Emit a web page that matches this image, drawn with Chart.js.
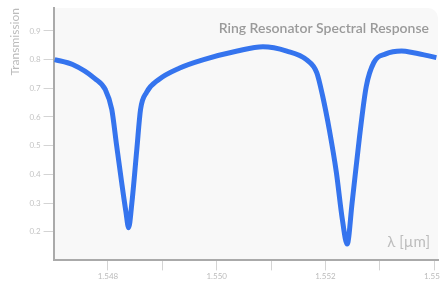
<!DOCTYPE html>
<html>
<head>
<meta charset="utf-8">
<script src="https://cdn.jsdelivr.net/npm/chart.js@4"></script>
<style>
  html, body { margin: 0; padding: 0; background: #fff; overflow: hidden; }
  #wrap { width: 460px; height: 282px; }
</style>
</head>
<body>
<div id="wrap"><canvas id="chart" width="460" height="282"></canvas></div>
<script>
// wavelength in µm
const wavelength = [
    1.54702, 1.54735, 1.54776, 1.54795, 1.54807, 1.54816, 1.54825, 1.54833,
    1.54838, 1.54844, 1.54853, 1.54860, 1.54871, 1.54893, 1.54931, 1.54976,
    1.55038, 1.55085, 1.55129, 1.55165, 1.55184, 1.55195, 1.55207, 1.55220,
    1.55231, 1.55240, 1.55249, 1.55262, 1.55275, 1.55289, 1.55311, 1.55340,
    1.55362, 1.55404
];
const transmission = [
    0.800, 0.783, 0.734, 0.696, 0.627, 0.500, 0.375, 0.270,
    0.214, 0.300, 0.485, 0.627, 0.686, 0.730, 0.770, 0.800,
    0.830, 0.845, 0.830, 0.800, 0.755, 0.672, 0.557, 0.408,
    0.244, 0.157, 0.300, 0.520, 0.706, 0.790, 0.820, 0.830,
    0.824, 0.807
];
const xTicks = [1.548, 1.549, 1.550, 1.551, 1.552, 1.553, 1.554];
const yTicks = [0.2, 0.3, 0.4, 0.5, 0.6, 0.7, 0.8, 0.9];

const points = wavelength.map((w, i) => ({ x: w, y: transmission[i] }));

// light panel behind the plot, rounded top-right corner
const panelBg = {
    id: 'panelBg',
    beforeDraw(chart) {
        const { ctx, chartArea: { left, top, right, bottom } } = chart;
        ctx.save();
        ctx.fillStyle = '#f8f8f8';
        ctx.beginPath();
        ctx.roundRect(left, top, right - left, bottom - top, [0, 10, 0, 0]);
        ctx.fill();
        ctx.restore();
    }
};

// title and unit label sit inside the plot
const insideLabels = {
    id: 'insideLabels',
    afterDraw(chart) {
        const ctx = chart.ctx;
        ctx.save();
        ctx.textAlign = 'right';
        ctx.textBaseline = 'middle';
        ctx.fillStyle = '#9a9a9a';
        ctx.font = '600 14px Lato';
        ctx.fillText('Ring Resonator Spectral Response', 429, 28);
        ctx.fillStyle = '#bdbdbd';
        ctx.font = '15px Lato';
        ctx.fillText('λ [µm]', 430, 242);
        ctx.restore();
    }
};

new Chart(document.getElementById('chart'), {
    type: 'line',
    data: {
        datasets: [{
            data: points,
            borderColor: '#3574ee',
            borderWidth: 5,
            pointRadius: 0,
            fill: false,
            cubicInterpolationMode: 'monotone'
        }]
    },
    options: {
        responsive: false,
        animation: false,
        layout: { padding: { top: 8, right: 22, left: 4, bottom: 0 } },
        plugins: { legend: { display: false }, tooltip: { enabled: false } },
        scales: {
            x: {
                type: 'linear',
                min: 1.547,
                max: 1.55407,
                afterBuildTicks: axis => { axis.ticks = xTicks.map(v => ({ value: v })); },
                ticks: {
                    autoSkip: false,
                    maxRotation: 0,
                    padding: 1,
                    color: '#bbb',
                    font: { family: 'Lato', size: 8 },
                    callback: v => (Math.round(v * 1000) % 2 === 0 ? v.toFixed(3) : '')
                },
                grid: { drawOnChartArea: false, drawTicks: true, tickLength: 10, color: '#d4d4d4' },
                border: { display: true, color: '#aaa', width: 2 }
            },
            y: {
                min: 0.1,
                max: 0.98,
                afterBuildTicks: axis => { axis.ticks = yTicks.map(v => ({ value: v })); },
                ticks: {
                    padding: 3,
                    color: '#c4c4c4',
                    font: { family: 'Lato', size: 8 },
                    callback: v => v.toFixed(1)
                },
                grid: { drawOnChartArea: false, drawTicks: true, tickLength: 10, color: '#d4d4d4' },
                border: { display: true, color: '#aaa', width: 2 },
                title: {
                    display: true,
                    text: 'Transmission',
                    align: 'end',
                    color: '#bbb',
                    font: { family: 'Lato', size: 12 },
                    padding: { top: 4, bottom: 4 }
                }
            }
        }
    },
    plugins: [panelBg, insideLabels]
});
</script>
</body>
</html>
